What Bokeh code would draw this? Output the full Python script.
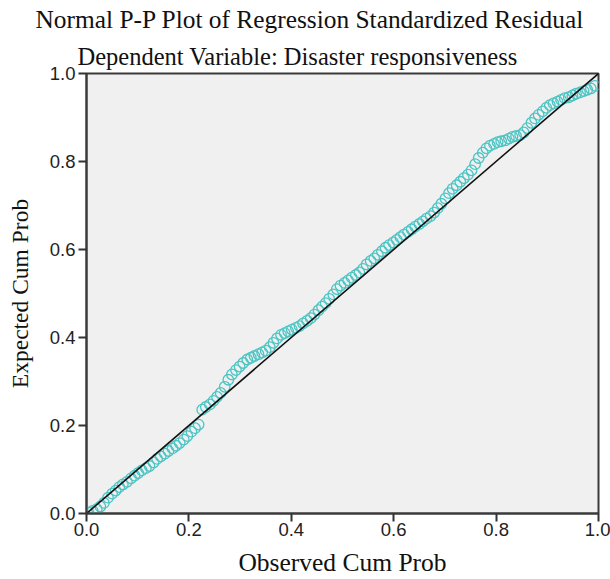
from bokeh.plotting import figure
from bokeh.models import Range1d, Title, FixedTicker
from bokeh.embed import file_html
from bokeh.resources import INLINE

observed = [0.004, 0.012, 0.020, 0.027, 0.034, 0.042, 0.050, 0.057, 0.064, 0.071,
            0.079, 0.087, 0.094, 0.101, 0.108, 0.116, 0.123, 0.131, 0.138, 0.145,
            0.153, 0.160, 0.168, 0.175, 0.182, 0.190, 0.197, 0.205, 0.212, 0.219,
            0.226, 0.233, 0.241, 0.248, 0.255, 0.262, 0.270, 0.277, 0.284, 0.292,
            0.299, 0.306, 0.314, 0.321, 0.328, 0.336, 0.343, 0.350, 0.358, 0.365,
            0.372, 0.380, 0.387, 0.394, 0.401, 0.409, 0.416, 0.423, 0.431, 0.438,
            0.445, 0.453, 0.460, 0.467, 0.474, 0.482, 0.489, 0.496, 0.504, 0.511,
            0.518, 0.526, 0.533, 0.540, 0.547, 0.555, 0.562, 0.569, 0.577, 0.584,
            0.591, 0.599, 0.606, 0.613, 0.620, 0.628, 0.635, 0.642, 0.650, 0.657,
            0.664, 0.672, 0.679, 0.686, 0.693, 0.701, 0.708, 0.715, 0.723, 0.730,
            0.737, 0.745, 0.752, 0.759, 0.766, 0.774, 0.781, 0.788, 0.796, 0.803,
            0.810, 0.818, 0.825, 0.832, 0.839, 0.847, 0.854, 0.861, 0.869, 0.876,
            0.883, 0.891, 0.898, 0.905, 0.912, 0.920, 0.927, 0.934, 0.942, 0.949,
            0.956, 0.964, 0.971, 0.978, 0.985, 0.993]

expected = [0.002, 0.006, 0.010, 0.016, 0.024, 0.036, 0.045, 0.052, 0.060, 0.066,
            0.072, 0.080, 0.086, 0.092, 0.098, 0.103, 0.108, 0.116, 0.124, 0.130,
            0.136, 0.142, 0.148, 0.154, 0.160, 0.168, 0.176, 0.186, 0.194, 0.202,
            0.236, 0.242, 0.248, 0.256, 0.265, 0.274, 0.288, 0.304, 0.316, 0.326,
            0.334, 0.342, 0.350, 0.354, 0.358, 0.362, 0.366, 0.370, 0.378, 0.388,
            0.398, 0.406, 0.410, 0.414, 0.418, 0.422, 0.426, 0.432, 0.438, 0.444,
            0.452, 0.462, 0.470, 0.478, 0.488, 0.498, 0.510, 0.518, 0.524, 0.530,
            0.536, 0.542, 0.548, 0.556, 0.566, 0.574, 0.580, 0.588, 0.596, 0.604,
            0.610, 0.616, 0.622, 0.628, 0.634, 0.640, 0.646, 0.652, 0.658, 0.664,
            0.670, 0.676, 0.684, 0.694, 0.704, 0.716, 0.728, 0.738, 0.746, 0.754,
            0.762, 0.770, 0.780, 0.794, 0.808, 0.820, 0.830, 0.836, 0.840, 0.844,
            0.846, 0.848, 0.852, 0.856, 0.858, 0.860, 0.866, 0.876, 0.888, 0.898,
            0.906, 0.914, 0.922, 0.928, 0.932, 0.936, 0.940, 0.944, 0.946, 0.950,
            0.954, 0.957, 0.960, 0.963, 0.966, 0.972]

ref_line = [0.0, 1.0]
ticks = [0.0, 0.2, 0.4, 0.6, 0.8, 1.0]
tick_labels = {0.0: "0.0", 0.2: "0.2", 0.4: "0.4", 0.6: "0.6", 0.8: "0.8", 1.0: "1.0"}

title_text = "Normal P-P Plot of Regression Standardized Residual"
subtitle_text = "Dependent Variable: Disaster responsiveness"
x_label = "Observed Cum Prob"
y_label = "Expected Cum Prob"

SERIF = "Liberation Serif"
SANS = "Liberation Sans"

p = figure(width=610, height=579, output_backend="svg", toolbar_location=None,
           x_range=Range1d(0, 1), y_range=Range1d(0, 1),
           min_border_left=86, min_border_right=12, min_border_bottom=64,
           min_border_top=73, title=None)

p.background_fill_color = "#F0F0F0"
p.border_fill_color = "white"
p.outline_line_color = "#3A3A3A"
p.outline_line_width = 2
p.grid.visible = False

p.add_layout(Title(text=subtitle_text, align="left", offset=-9,
                   text_font=SERIF, text_font_size="24.5px", text_font_style="normal",
                   text_color="#111111", standoff=7), "above")
p.add_layout(Title(text=title_text, align="left", offset=-51, vertical_align="top",
                   text_font=SERIF, text_font_size="25.4px", text_font_style="normal",
                   text_color="#111111", standoff=6), "above")

for ax in (p.xaxis[0], p.yaxis[0]):
    ax.ticker = FixedTicker(ticks=ticks)
    ax.major_label_overrides = tick_labels
    ax.minor_tick_line_color = None
    ax.major_tick_out = 8
    ax.major_tick_in = 0
    ax.major_tick_line_color = "#333333"
    ax.major_tick_line_width = 2
    ax.axis_line_color = "#3A3A3A"
    ax.axis_line_width = 2
    ax.major_label_text_font = SANS
    ax.major_label_text_font_size = "18.5px"
    ax.major_label_text_color = "#222222"
    ax.axis_label_text_font = SERIF
    ax.axis_label_text_font_style = "normal"
    ax.axis_label_text_color = "#111111"

p.xaxis.axis_label = x_label
p.yaxis.axis_label = y_label
p.xaxis.axis_label_text_font_size = "25.5px"
p.yaxis.axis_label_text_font_size = "23.5px"
p.xaxis.major_label_standoff = 1
p.yaxis.major_label_standoff = 3
p.xaxis.axis_label_standoff = 9
p.yaxis.axis_label_standoff = 14

p.scatter(observed, expected, marker="circle", size=10.5, fill_color=None,
          line_color="#4CC4C4", line_width=1.3)
p.line(ref_line, ref_line, line_color="#111111", line_width=1.6)

open("out.html", "w").write(file_html(p, INLINE))
